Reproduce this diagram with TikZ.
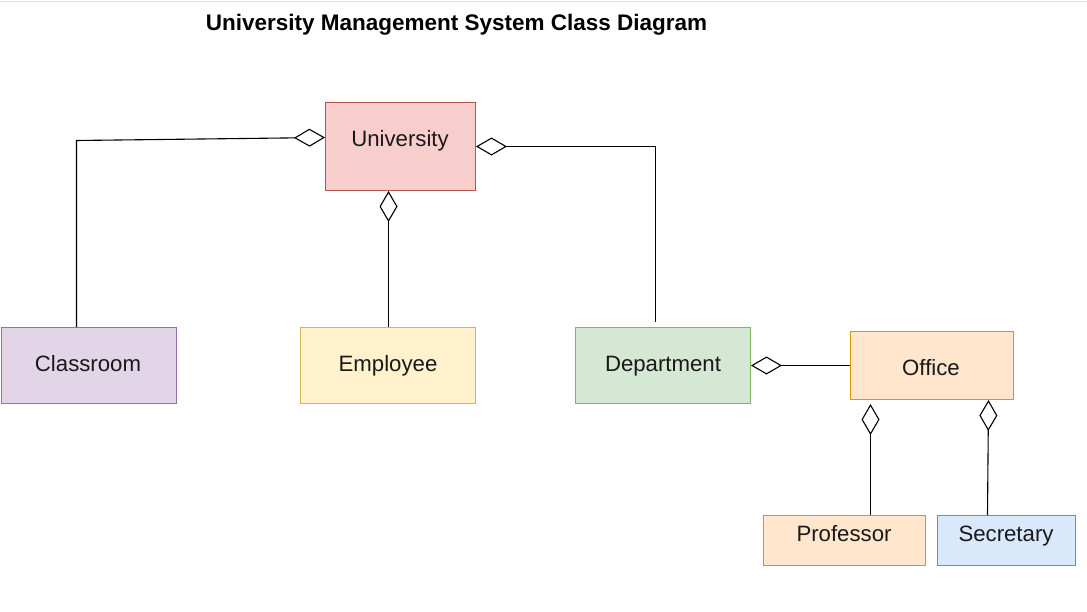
\documentclass[tikz,border=0pt]{standalone}
\usepackage{fontspec}
\setmainfont{Liberation Sans}
\usetikzlibrary{arrows.meta,calc}
\definecolor{univfill}{HTML}{F8CECC}\definecolor{univdraw}{HTML}{B85450}
\definecolor{clsfill}{HTML}{E1D5E7}\definecolor{clsdraw}{HTML}{9673A6}
\definecolor{empfill}{HTML}{FFF2CC}\definecolor{empdraw}{HTML}{D6B656}
\definecolor{depfill}{HTML}{D5E8D4}\definecolor{depdraw}{HTML}{82B366}
\definecolor{offfill}{HTML}{FFE6CC}\definecolor{offdraw}{HTML}{D79B00}
\definecolor{secfill}{HTML}{DAE8FC}\definecolor{secdraw}{HTML}{6C8EBF}
\begin{document}
\begin{tikzpicture}[x=1pt,y=-1pt,
  box/.style={draw,line width=1pt,inner sep=0pt},
  lbl/.style={anchor=base,inner sep=0pt,font=\fontsize{22.2}{26}\selectfont,text=black!90},
  agg/.style={line width=1.1pt,-{Diamond[open,length=31pt,width=18pt,line width=1.1pt]}}]
\useasboundingbox (0,0) rectangle (1087,611);
\draw[black!13,line width=1pt] (0,1) -- (1087,1);
\node[anchor=base,inner sep=0pt,font=\bfseries\fontsize{22.5}{26}\selectfont] (title) at (456.5,30) {University Management System Class Diagram};
% boxes
\node[box,fill=univfill,draw=univdraw,minimum width=150pt,minimum height=88pt] (univ) at (400.5,146.5) {};
\node[box,fill=clsfill,draw=clsdraw,minimum width=175pt,minimum height=76pt] (cls) at (88.5,365.5) {};
\node[box,fill=empfill,draw=empdraw,minimum width=175pt,minimum height=76pt] (emp) at (388,365.5) {};
\node[box,fill=depfill,draw=depdraw,minimum width=175pt,minimum height=76pt] (dept) at (663,365.5) {};
\node[box,fill=offfill,draw=offdraw,minimum width=163pt,minimum height=68pt] (off) at (932,365.5) {};
\node[box,fill=offfill,draw=offdraw,minimum width=162pt,minimum height=50pt] (prof) at (844.5,540.5) {};
\node[box,fill=secfill,draw=secdraw,minimum width=138pt,minimum height=50pt] (sec) at (1006.5,540.5) {};
% labels
\node[lbl] (univlbl) at (400,146) {University};
\node[lbl] (clslbl) at (88,371) {Classroom};
\node[lbl] (emplbl) at (388,371) {Employee};
\node[lbl] (deptlbl) at (663,371) {Department};
\node[lbl] (offlbl) at (931,375) {Office};
\node[lbl] (proflbl) at (844,541) {Professor};
\node[lbl] (seclbl) at (1006,541) {Secretary};
% connectors
\coordinate (a1) at (76.5,140.5);
\draw[agg] (cls.north -| a1) -- (a1) -- ($(univ.west)+(0,-9)$);
\coordinate (b1) at ($(dept.north)+(-7.5,-5)$);
\draw[agg] (b1) -- (b1 |- univ.east) -- (univ.east);
\coordinate (e1) at ($(emp.north)+(0.5,0)$);
\draw[agg] (e1) -- (e1 |- univ.south);
\draw[agg] (off.west) -- (dept.east);
\coordinate (c1) at ($(prof.north)+(26,0)$);
\draw[agg] (c1) -- ($(c1 |- off.south)+(0,4)$);
\coordinate (d1) at ($(sec.north)+(-19,0)$);
\draw[agg] (d1) -- ($(off.south)+(56.5,0)$);
\end{tikzpicture}
\end{document}
